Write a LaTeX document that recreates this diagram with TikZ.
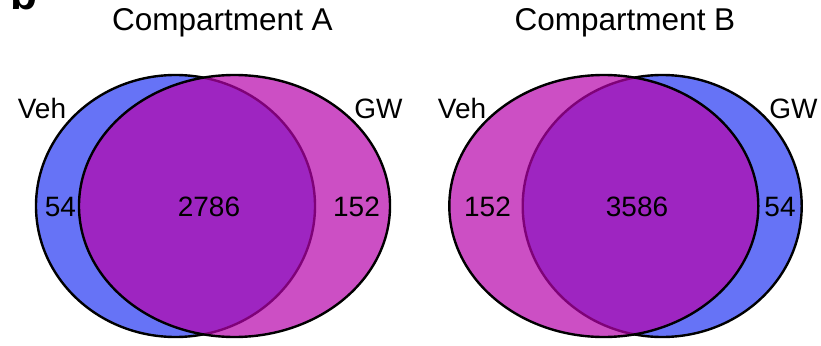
\documentclass[tikz,border=0pt]{standalone}
\usepackage{fontspec}
\setmainfont{Liberation Sans}
\definecolor{vennblue}{RGB}{102,115,246}
\definecolor{vennmag}{RGB}{182,4,171}
\begin{document}
\begin{tikzpicture}[x=1pt,y=-1pt,
  setveh/.style={fill=vennblue, draw=black, line width=2.4pt},
  setgw/.style={fill=vennmag, fill opacity=0.7, draw=black, line width=2.4pt},
  paneltitle/.style={font=\fontsize{31.5}{36}\selectfont, anchor=base, inner sep=0pt},
  setlabel/.style={font=\fontsize{28}{32}\selectfont, anchor=base, inner sep=0pt},
  panelletter/.style={font=\fontsize{44}{50}\selectfont\bfseries, anchor=base west, inner sep=0pt}]
\useasboundingbox (0,0) rectangle (821,345);
\clip (0,0) rectangle (821,345);

% panel letter
\node[panelletter] (letter) at (10,10) {b};

% Compartment A
\node[paneltitle] (titleA) at (222.5,31) {Compartment A};
\draw[setveh] (175.5,206) ellipse [x radius=139.5pt, y radius=131pt];
\draw[setgw]  (234.5,206) ellipse [x radius=155.5pt, y radius=131pt];
\node[setlabel] (vehA) at (42,118) {Veh};
\node[setlabel] (gwA) at (378.5,118) {GW};
\node[setlabel] (onlyvehA) at (60.5,216) {54};
\node[setlabel] (bothA) at (209,216) {2786};
\node[setlabel] (onlygwA) at (356.5,216) {152};

% Compartment B
\node[paneltitle] (titleB) at (625,31) {Compartment B};
\draw[setveh] (662.2,206) ellipse [x radius=139.5pt, y radius=131pt];
\draw[setgw]  (603.8,206) ellipse [x radius=154.5pt, y radius=131pt];
\node[setlabel] (vehB) at (462,118) {Veh};
\node[setlabel] (gwB) at (793.5,118) {GW};
\node[setlabel] (onlyvehB) at (487.5,216) {152};
\node[setlabel] (bothB) at (637,216) {3586};
\node[setlabel] (onlygwB) at (780,216) {54};
\end{tikzpicture}
\end{document}
